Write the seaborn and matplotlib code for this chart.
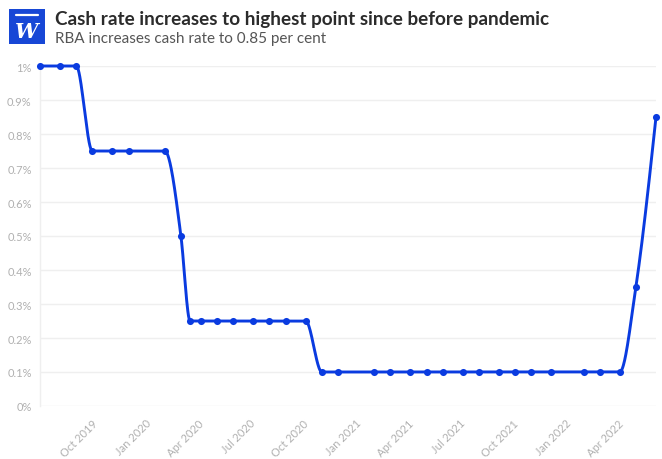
import numpy as np
import pandas as pd
import matplotlib
matplotlib.use("Agg")
import matplotlib.pyplot as plt
import matplotlib.dates as mdates
from matplotlib.patches import Rectangle
from matplotlib.ticker import FuncFormatter
import seaborn as sns

# --- data: RBA board meeting dates and cash rate target (%) ---
meeting_dates = [
    "2019-07-02", "2019-08-06", "2019-09-03", "2019-10-01", "2019-11-05",
    "2019-12-03", "2020-02-04", "2020-03-03", "2020-03-19", "2020-04-07",
    "2020-05-05", "2020-06-02", "2020-07-07", "2020-08-04", "2020-09-01",
    "2020-10-06", "2020-11-03", "2020-12-01", "2021-02-02", "2021-03-02",
    "2021-04-06", "2021-05-04", "2021-06-01", "2021-07-06", "2021-08-03",
    "2021-09-07", "2021-10-05", "2021-11-02", "2021-12-07", "2022-02-01",
    "2022-03-01", "2022-04-05", "2022-05-03", "2022-06-07",
]
cash_rate = [
    1.00, 1.00, 1.00, 0.75, 0.75,
    0.75, 0.75, 0.50, 0.25, 0.25,
    0.25, 0.25, 0.25, 0.25, 0.25,
    0.25, 0.10, 0.10, 0.10, 0.10,
    0.10, 0.10, 0.10, 0.10, 0.10,
    0.10, 0.10, 0.10, 0.10, 0.10,
    0.10, 0.10, 0.35, 0.85,
]
y_ticks = [0.0, 0.1, 0.2, 0.3, 0.4, 0.5, 0.6, 0.7, 0.8, 0.9, 1.0]

title = "Cash rate increases to highest point since before pandemic"
subtitle = "RBA increases cash rate to 0.85 per cent"

df = pd.DataFrame({"date": pd.to_datetime(meeting_dates), "rate": cash_rate})

LINE = "#0a3be0"
GRID = "#efefef"
TICK = "#b0b0b0"


# monotone-x curve (same shape as d3.curveMonotoneX) for drawing the line
def monotone_curve(x, y, n=40):
    x = np.asarray(x, float)
    y = np.asarray(y, float)
    h = np.diff(x)
    s = np.diff(y) / h
    t = np.zeros_like(y)
    for i in range(1, len(y) - 1):
        s0, s1 = s[i - 1], s[i]
        p = (s0 * h[i] + s1 * h[i - 1]) / (h[i - 1] + h[i])
        t[i] = (np.sign(s0) + np.sign(s1)) * min(abs(s0), abs(s1), 0.5 * abs(p))
    t[0] = (3 * s[0] - t[1]) / 2 if len(y) > 2 else s[0]
    t[-1] = (3 * s[-1] - t[-2]) / 2 if len(y) > 2 else s[-1]
    xs, ys = [], []
    for i in range(len(h)):
        u = np.linspace(0, 1, n, endpoint=False)
        x0 = x[i]
        c0, c3 = y[i], y[i + 1]
        c1 = c0 + t[i] * h[i] / 3
        c2 = c3 - t[i + 1] * h[i] / 3
        bx = x0 + u * h[i]
        by = ((1 - u) ** 3 * c0 + 3 * (1 - u) ** 2 * u * c1
              + 3 * (1 - u) * u ** 2 * c2 + u ** 3 * c3)
        xs.append(bx)
        ys.append(by)
    xs.append([x[-1]])
    ys.append([y[-1]])
    return np.concatenate(xs), np.concatenate(ys)


xnum = mdates.date2num(df["date"])
cx, cy = monotone_curve(xnum, df["rate"])
curve = pd.DataFrame({"date": mdates.num2date(cx), "rate": cy})

sns.set_style("white")
plt.rcParams["font.family"] = ["Lato", "DejaVu Sans"]

fig = plt.figure(figsize=(6.62, 4.60), dpi=100)
ax = fig.add_axes([40 / 662, 1 - 407 / 460, 616 / 662, 340 / 460])

sns.lineplot(data=curve, x="date", y="rate", ax=ax, color=LINE,
             linewidth=2.1, estimator=None, sort=False)
sns.scatterplot(data=df, x="date", y="rate", ax=ax, color=LINE,
                s=26, edgecolor=LINE, linewidth=0, zorder=4, clip_on=False)
for c in ax.collections + ax.lines:
    c.set_clip_on(False)

ax.set_xlim(df["date"].iloc[0], df["date"].iloc[-1])
ax.set_ylim(0, 1)
ax.set_yticks(y_ticks)
ax.yaxis.set_major_formatter(FuncFormatter(lambda v, _: f"{v:g}%"))
ax.xaxis.set_major_locator(mdates.MonthLocator(bymonth=[1, 4, 7, 10]))
ax.xaxis.set_major_formatter(mdates.DateFormatter("%b %Y"))

ax.grid(axis="y", color=GRID, linewidth=1)
ax.grid(axis="x", visible=False)
ax.set_axisbelow(True)
for side in ["top", "right", "bottom"]:
    ax.spines[side].set_visible(False)
ax.spines["left"].set_color(GRID)
ax.spines["left"].set_linewidth(1)

ax.tick_params(axis="y", length=0, pad=6, labelsize=8, labelcolor=TICK)
ax.tick_params(axis="x", length=5, width=0.8, color="#e2e2e2", pad=3,
               labelsize=8, labelcolor=TICK)
for lab in ax.get_xticklabels():
    lab.set_rotation(45)
    lab.set_ha("right")
    lab.set_va("top")
    lab.set_rotation_mode("anchor")
ax.set_xlabel("")
ax.set_ylabel("")

# header
logo = fig.add_axes([9 / 662, 1 - 45 / 460, 36 / 662, 35 / 460])
logo.set_xlim(0, 1)
logo.set_ylim(0, 1)
logo.axis("off")
logo.add_patch(Rectangle((0, 0), 1, 1, color="#1747d6"))
logo.plot([0.2, 0.8], [0.84, 0.84], color="white", linewidth=1.6)
logo.text(0.5, 0.36, "W", color="white", ha="center", va="center",
          fontsize=15, family="DejaVu Serif", fontweight="bold",
          fontstyle="italic")

fig.text(55 / 662, 1 - 19 / 460, title, fontsize=13.6, fontweight="bold",
         color="#2b2b2b", va="center", ha="left")
fig.text(55 / 662, 1 - 39 / 460, subtitle, fontsize=11, color="#555555",
         va="center", ha="left")

fig.savefig("out.png", dpi=100)
